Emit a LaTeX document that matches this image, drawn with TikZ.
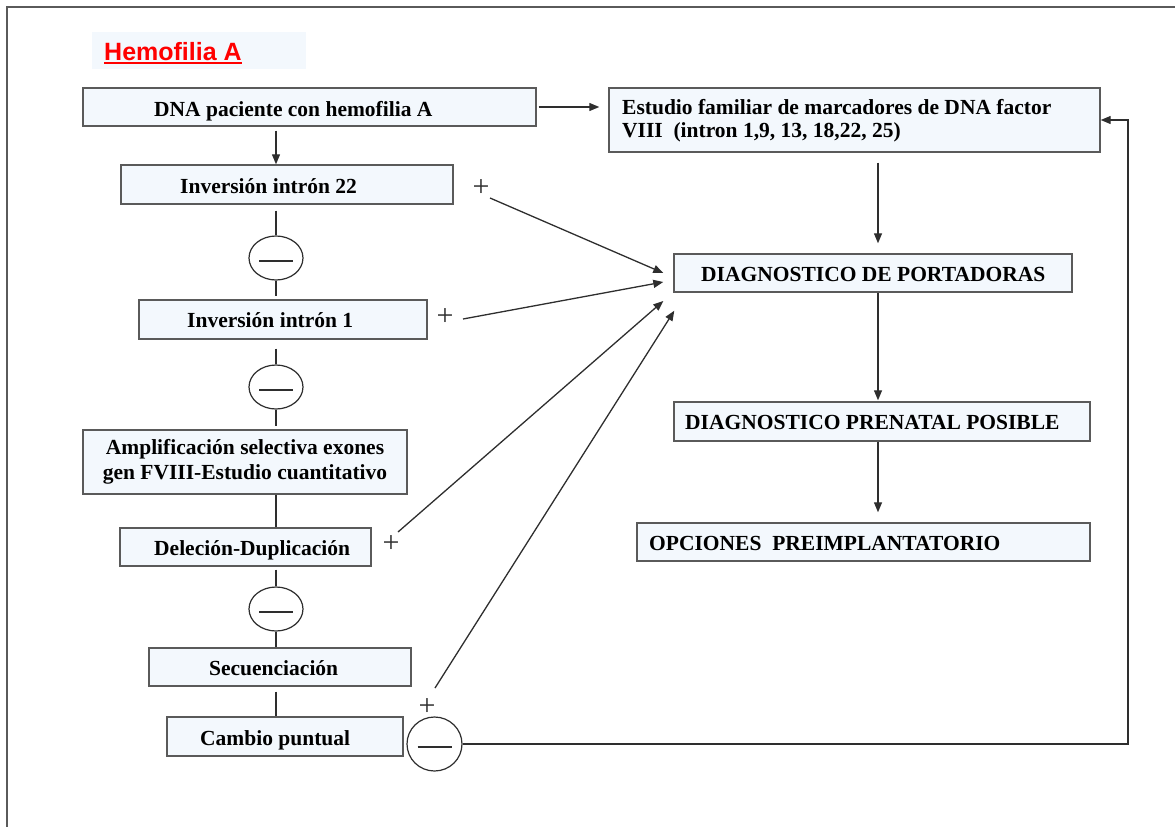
\documentclass[tikz,border=0pt]{standalone}
\usepackage{fontspec}
\setmainfont{Liberation Serif}
\newfontfamily\arialf{Liberation Sans}
\usetikzlibrary{arrows.meta,shapes.geometric,calc}
\definecolor{boxfill}{HTML}{F3F8FD}
\definecolor{boxline}{HTML}{5A5A5A}
\definecolor{linec}{HTML}{2E2E2E}
\begin{document}
\begin{tikzpicture}[x=1pt,y=-1pt,
  box/.style={draw=boxline, line width=1.4pt, fill=boxfill, inner sep=0pt},
  lbl/.style={font=\fontsize{21.5}{23}\selectfont\bfseries, inner sep=0pt, text=black},
  minus/.style={draw=linec, line width=1.2pt, ellipse, fill=white, inner sep=0pt,
    path picture={\draw[linec, line width=1.2pt] ([xshift=-17pt,yshift=-3pt]path picture bounding box.center) -- ++(34pt,0pt);}},
  plus/.style={font=\fontsize{30}{30}\selectfont, inner sep=1pt, text=linec},
  link/.style={draw=linec, line width=1.3pt},
  arr/.style={link, -{Triangle[length=10pt,width=8pt]}}
]
\useasboundingbox (0,0) rectangle (1175,827);
% frame
\draw[boxline, line width=1.4pt] (7,827) -- (7,7) -- (1175,7);
% title
\node[fill=boxfill, minimum width=214pt, minimum height=37pt, inner sep=0pt] (titlebg) at (199,50.5) {};
\node[anchor=base west, inner sep=0pt, font=\arialf\fontsize{25}{25}\selectfont\bfseries, text=red] (title) at (104,60) {Hemofilia A};
\draw[red, line width=1.6pt] ($(title.base west)+(0,3)$) -- ($(title.base east)+(0,3)$);

% left boxes
\node[box, minimum width=453pt, minimum height=38pt] (b1) at (309.5,107) {};
\node[lbl, anchor=base west] (b1t) at (154,116) {DNA paciente con hemofilia A};
\node[box, minimum width=332pt, minimum height=39pt] (inv22) at (287,184.5) {};
\node[lbl, anchor=base west] (inv22t) at (180,193.5) {Inversión intrón 22};
\node[box, minimum width=288pt, minimum height=39pt] (inv1) at (283,319.5) {};
\node[lbl, anchor=base west] (inv1t) at (187,327.5) {Inversión intrón 1};
\node[box, lbl, draw=boxline, fill=boxfill, minimum width=324pt, minimum height=64pt, align=center, font=\fontsize{21.5}{24.5}\selectfont\bfseries] (amp) at (245,462) {Amplificación selectiva exones\\gen FVIII-Estudio cuantitativo};
\node[box, minimum width=251pt, minimum height=38pt] (del) at (245.5,547) {};
\node[lbl, anchor=base west] (delt) at (154,555) {Deleción-Duplicación};
\node[box, minimum width=262pt, minimum height=38pt] (sec) at (280,667) {};
\node[lbl, anchor=base west] (sect) at (209,675.5) {Secuenciación};
\node[box, minimum width=236pt, minimum height=39pt] (cam) at (285,736.5) {};
\node[lbl, anchor=base west] (camt) at (200,745) {Cambio puntual};

% minus circles
\node[minus, minimum width=54pt, minimum height=44pt] (m1) at (276,258) {};
\node[minus, minimum width=54pt, minimum height=44pt] (m2) at (276,387) {};
\node[minus, minimum width=54pt, minimum height=44pt] (m3) at (276,609) {};
\node[minus, minimum width=55pt, minimum height=54pt] (m4) at (434.5,744) {};

% right boxes
\node[box, minimum width=491pt, minimum height=64pt] (est) at (854.5,120) {};
\node[lbl, anchor=west, align=left] (estt) at (622,121) {Estudio familiar de marcadores de DNA factor\\VIII\ \ (intron 1,9, 13, 18,22, 25)};
\node[box, minimum width=398pt, minimum height=38pt] (por) at (873,273) {};
\node[lbl, anchor=base west] (port) at (701,281.5) {DIAGNOSTICO DE PORTADORAS};
\node[box, minimum width=416pt, minimum height=39pt] (pre) at (882,421.5) {};
\node[lbl, anchor=base west] (pret) at (685,429.5) {DIAGNOSTICO PRENATAL POSIBLE};
\node[box, minimum width=453pt, minimum height=38pt] (opc) at (863.5,542) {};
\node[lbl, anchor=base west] (opct) at (649,550) {OPCIONES\ \ PREIMPLANTATORIO};

% plus signs
\node[plus] (p1) at (481,188) {+};
\node[plus] (p2) at (445,317) {+};
\node[plus] (p3) at (391,544) {+};
\node[plus] (p4) at (427,707) {+};

% helper coordinates
\coordinate (vx) at (878,0);
\coordinate (rx) at (1128,0);
\coordinate (t1) at ($(por.west)+(-10,0)$);
\coordinate (t2) at ($(por.west)+(-10,9)$);
\coordinate (t3) at ($(por.west)+(-10,28)$);
\coordinate (t4) at ($(por.south west)+(1,18)$);

% left chain
\draw[arr, shorten <=4pt] (b1.south -| m1) -- (inv22.north -| m1);
\draw[link, shorten <=6pt] (inv22.south -| m1) -- (m1.north);
\draw[link, shorten >=3pt] (m1.south) -- (inv1.north -| m1);
\draw[link, shorten <=9pt] (inv1.south -| m1) -- (m2.north);
\draw[link, shorten >=3pt] (m2.south) -- (amp.north -| m1);
\draw[link] (amp.south -| m1) -- (del.north -| m1);
\draw[link, shorten <=3pt] (del.south -| m1) -- (m3.north);
\draw[link] (m3.south) -- (sec.north -| m1);
\draw[link, shorten <=5pt] (sec.south -| m1) -- (cam.north -| m1);

% right chain
\draw[arr, shorten <=2pt, shorten >=9pt] (b1.east) -- (b1.east -| est.west);
\draw[arr, shorten <=10pt, shorten >=10pt] (est.south -| vx) -- (por.north -| vx);
\draw[arr, shorten >=1pt] (por.south -| vx) -- (pre.north -| vx);
\draw[arr, shorten >=10pt] (pre.south -| vx) -- (opc.north -| vx);
\draw[arr] (m4.east) -| (rx |- est.east) -- (est.east);

% diagonals
\draw[arr] ($(p1.center)+(9,10)$) -- (t1);
\draw[arr] ($(p2.center)+(18,2)$) -- (t2);
\draw[arr] ($(p3.center)+(7,-12)$) -- (t3);
\draw[arr] ($(p4.center)+(8,-19)$) -- (t4);
\end{tikzpicture}
\end{document}
